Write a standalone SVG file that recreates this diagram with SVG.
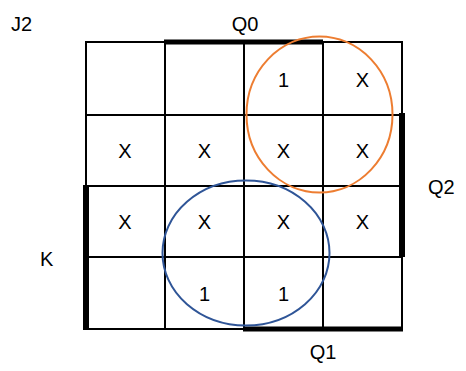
<svg xmlns="http://www.w3.org/2000/svg" width="466" height="371" viewBox="0 0 466 371">
<style>
.g{stroke:#000;stroke-width:2;fill:none}
.t{stroke:#000;stroke-width:5;fill:none}
text{font-family:"Liberation Sans",Arial,sans-serif;font-size:20px;fill:#000}
.c{text-anchor:middle}
</style>
<rect width="466" height="371" fill="#fff"/>
<g id="grid">
<rect class="g" x="86" y="42" width="316" height="287"/>
<line class="g" x1="165" y1="42" x2="165" y2="329"/>
<line class="g" x1="244" y1="42" x2="244" y2="329"/>
<line class="g" x1="323" y1="42" x2="323" y2="329"/>
<line class="g" x1="86" y1="115" x2="402" y2="115"/>
<line class="g" x1="86" y1="186" x2="402" y2="186"/>
<line class="g" x1="86" y1="257" x2="402" y2="257"/>
</g>
<g id="bars">
<line class="t" x1="164" y1="42" x2="323" y2="42"/>
<line class="t" x1="402" y1="113" x2="402" y2="257" style="stroke-width:6"/>
<line class="t" x1="86" y1="185" x2="86" y2="330" style="stroke-width:6"/>
<line class="t" x1="243" y1="329" x2="403" y2="329"/>
</g>
<g id="loops">
<ellipse cx="319.5" cy="114.5" rx="73" ry="78" fill="none" stroke="#ED7D31" stroke-width="2"/>
<ellipse cx="246" cy="253" rx="83.5" ry="72.5" fill="none" stroke="#2F5597" stroke-width="2"/>
</g>
<g id="labels">
<text x="11" y="31">J2</text>
<text class="c" x="245" y="31">Q0</text>
<text x="428" y="194">Q2</text>
<text x="40" y="266">K</text>
<text class="c" x="323" y="359">Q1</text>
</g>
<g id="cells">
<text class="c" x="283.5" y="87">1</text>
<text class="c" x="362.5" y="87">X</text>
<text class="c" x="125" y="158">X</text>
<text class="c" x="204.5" y="158">X</text>
<text class="c" x="283.5" y="158">X</text>
<text class="c" x="362.5" y="158">X</text>
<text class="c" x="125" y="229">X</text>
<text class="c" x="204.5" y="229">X</text>
<text class="c" x="283.5" y="229">X</text>
<text class="c" x="362.5" y="229">X</text>
<text class="c" x="204.5" y="301">1</text>
<text class="c" x="283.5" y="301">1</text>
</g>
</svg>
